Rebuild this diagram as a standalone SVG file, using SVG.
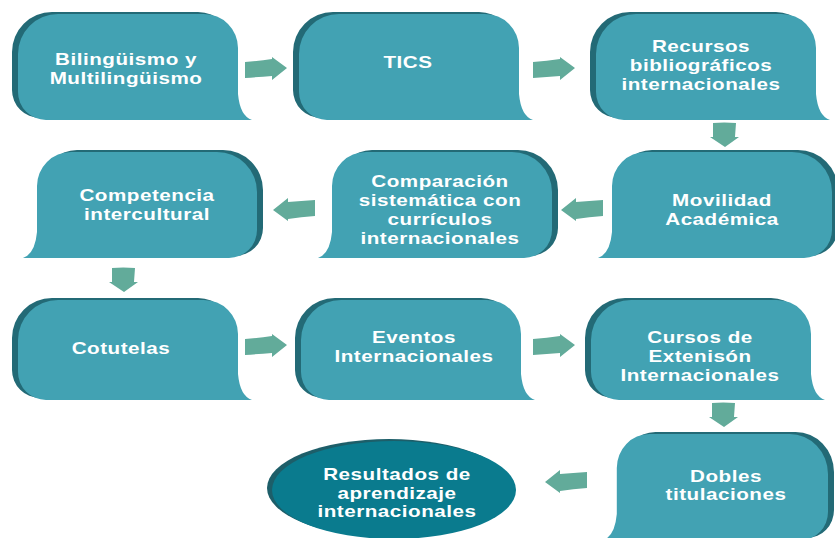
<svg xmlns="http://www.w3.org/2000/svg" xmlns:xlink="http://www.w3.org/1999/xlink" width="835" height="538" viewBox="0 0 835 538">
<defs>
<style>
.bd{fill:#42a2b3}
.dk{fill:#236a76}
.el{fill:#0a7b8e}
.eld{fill:#1d5e69}
.ar{fill:#62ab9a}
text{font-family:"Liberation Sans",Arial,sans-serif;font-weight:bold;font-size:16px;fill:#ffffff;text-anchor:middle;letter-spacing:0.4px}
</style>
<path id="bub106" d="M40,0 H186 A34,34 0 0 1 220,34 V80 Q222,102 234,106 H28 A28,28 0 0 1 0,78 V40 A40,40 0 0 1 40,0 Z"/>
<path id="bub100" d="M40,0 H186 A34,34 0 0 1 220,34 V74 Q222,96 234,100 H28 A28,28 0 0 1 0,72 V40 A40,40 0 0 1 40,0 Z"/>
<path id="arR" d="M0,-8 Q14,-9 27,-11 V-13 L42,-2 L27,10 V6 Q14,7 0,8 Z"/>
<path id="arD" d="M-11,0 Q0,-1 12,0 Q11.5,7 11,14 H15 L1,24 L-14,14 H-11 Q-11,7 -11,0 Z"/>
</defs>

<g id="n1">
<use xlink:href="#bub106" class="dk" transform="translate(12,12)"/>
<use xlink:href="#bub106" class="bd" transform="translate(18,14)"/>
<g transform="translate(126,0) scale(1.29,1)"><text x="0" y="65">Bilingüismo y</text><text x="0" y="84">Multilingüismo</text></g>
</g>
<g id="n2">
<use xlink:href="#bub106" class="dk" transform="translate(293,12)"/>
<use xlink:href="#bub106" class="bd" transform="translate(299,14)"/>
<g transform="translate(408,0) scale(1.29,1)"><text x="0" y="68">TICS</text></g>
</g>
<g id="n3">
<use xlink:href="#bub106" class="dk" transform="translate(590,12)"/>
<use xlink:href="#bub106" class="bd" transform="translate(596,14)"/>
<g transform="translate(701,0) scale(1.29,1)"><text x="0" y="52">Recursos</text><text x="0" y="71">bibliográficos</text><text x="0" y="90">internacionales</text></g>
</g>
<g id="n4">
<use xlink:href="#bub106" class="dk" transform="translate(838,150) scale(-1,1)"/>
<use xlink:href="#bub106" class="bd" transform="translate(832,152) scale(-1,1)"/>
<g transform="translate(722,0) scale(1.29,1)"><text x="0" y="206">Movilidad</text><text x="0" y="225">Académica</text></g>
</g>
<g id="n5">
<use xlink:href="#bub106" class="dk" transform="translate(558,150) scale(-1,1)"/>
<use xlink:href="#bub106" class="bd" transform="translate(552,152) scale(-1,1)"/>
<g transform="translate(440,0) scale(1.29,1)"><text x="0" y="187">Comparación</text><text x="0" y="206">sistemática con</text><text x="0" y="225">currículos</text><text x="0" y="244">internacionales</text></g>
</g>
<g id="n6">
<use xlink:href="#bub106" class="dk" transform="translate(263,150) scale(-1,1)"/>
<use xlink:href="#bub106" class="bd" transform="translate(257,152) scale(-1,1)"/>
<g transform="translate(147,0) scale(1.29,1)"><text x="0" y="201">Competencia</text><text x="0" y="220">intercultural</text></g>
</g>
<g id="n7">
<use xlink:href="#bub100" class="dk" transform="translate(12,298)"/>
<use xlink:href="#bub100" class="bd" transform="translate(18,300)"/>
<g transform="translate(121,0) scale(1.29,1)"><text x="0" y="354">Cotutelas</text></g>
</g>
<g id="n8">
<use xlink:href="#bub100" class="dk" transform="translate(295,298)"/>
<use xlink:href="#bub100" class="bd" transform="translate(301,300)"/>
<g transform="translate(414,0) scale(1.29,1)"><text x="0" y="343">Eventos</text><text x="0" y="362">Internacionales</text></g>
</g>
<g id="n9">
<use xlink:href="#bub100" class="dk" transform="translate(585,298)"/>
<use xlink:href="#bub100" class="bd" transform="translate(591,300)"/>
<g transform="translate(700,0) scale(1.29,1)"><text x="0" y="343">Cursos de</text><text x="0" y="362">Extenisón</text><text x="0" y="381">Internacionales</text></g>
</g>
<g id="n10">
<use xlink:href="#bub106" class="dk" transform="translate(834,432) scale(-0.96,1)"/>
<use xlink:href="#bub106" class="bd" transform="translate(828,434) scale(-0.96,1)"/>
<g transform="translate(726,0) scale(1.29,1)"><text x="0" y="482">Dobles</text><text x="0" y="500">titulaciones</text></g>
</g>
<g id="n11">
<ellipse class="eld" cx="389" cy="488" rx="122" ry="49"/>
<ellipse class="el" cx="394" cy="490" rx="122" ry="49"/>
<g transform="translate(397,0) scale(1.29,1)"><text x="0" y="480">Resultados de</text><text x="0" y="499">aprendizaje</text><text x="0" y="517">internacionales</text></g>
</g>

<g id="connectors">
<use xlink:href="#arR" class="ar" transform="translate(245,70)"/>
<use xlink:href="#arR" class="ar" transform="translate(533,70)"/>
<use xlink:href="#arD" class="ar" transform="translate(724,123)"/>
<use xlink:href="#arR" class="ar" transform="translate(603,208) rotate(180)"/>
<use xlink:href="#arR" class="ar" transform="translate(315,208) rotate(180)"/>
<use xlink:href="#arD" class="ar" transform="translate(123,268)"/>
<use xlink:href="#arR" class="ar" transform="translate(245,347)"/>
<use xlink:href="#arR" class="ar" transform="translate(533,347)"/>
<use xlink:href="#arD" class="ar" transform="translate(723,403)"/>
<use xlink:href="#arR" class="ar" transform="translate(587,480) rotate(180)"/>
</g>
</svg>
